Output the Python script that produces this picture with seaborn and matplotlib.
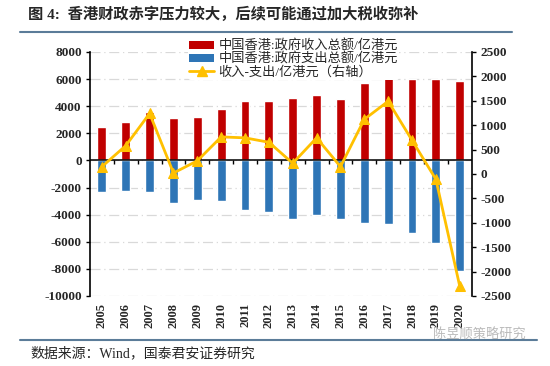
import numpy as np
import pandas as pd
import seaborn as sns
import matplotlib.pyplot as plt
from matplotlib.patches import Patch
from matplotlib.lines import Line2D

# values (亿港元)
years = [str(y) for y in range(2005, 2021)]
revenue = [2470, 2860, 3590, 3160, 3180, 3770, 4390, 4420, 4570, 4790, 4500, 5730, 6220, 6030, 6000, 5880]
expenditure = [-2320, -2270, -2330, -3140, -2890, -2990, -3650, -3800, -4350, -4050, -4350, -4620, -4720, -5330, -6100, -8150]
balance = [150, 580, 1240, 20, 270, 760, 740, 650, 220, 740, 150, 1120, 1490, 690, -110, -2300]

left_ticks = list(range(-10000, 8001, 2000))
right_ticks = list(range(-2500, 2501, 500))

RED = '#C00000'
BLUE = '#2E75B6'
GOLD = '#FFC000'
RULE = '#5B7C99'

sns.set_theme(style='white')
plt.rcParams['font.family'] = ['Liberation Serif', 'Noto Sans CJK SC', 'DejaVu Sans']
plt.rcParams['axes.unicode_minus'] = False

df = pd.DataFrame({'year': years, 'revenue': revenue,
                   'expenditure': expenditure, 'balance': balance})

fig = plt.figure(figsize=(5.5, 3.66), dpi=100)
ax = fig.add_axes([0.1636, 0.1913, 0.694, 0.6667])

sns.barplot(data=df, x='year', y='revenue', color=RED, saturation=1,
            width=0.37, errorbar=None, ax=ax)
sns.barplot(data=df, x='year', y='expenditure', color=BLUE, saturation=1,
            width=0.37, errorbar=None, ax=ax)

ax.set_xlim(-0.5, len(years) - 0.5)
ax.set_ylim(left_ticks[0], left_ticks[-1])
ax.set_yticks(left_ticks)
ax.set_xlabel('')
ax.set_ylabel('')
ax.set_axisbelow(True)
ax.grid(axis='y', color='#D9D9D9', linestyle=(0, (8, 3, 1, 3)), lw=0.9)
ax.axhline(0, color='black', lw=1.1, zorder=3)
# small ticks between categories on the zero line
ax.vlines(np.arange(0.5, len(years) - 1, 1), -250, 0, color='black', lw=1, zorder=3)

for s in ['top', 'right', 'bottom']:
    ax.spines[s].set_visible(False)
ax.spines['left'].set_color('black')
ax.spines['left'].set_linewidth(1.2)
ax.tick_params(axis='x', length=0, pad=5, labelsize=9, rotation=90)
ax.tick_params(axis='y', left=True, length=3, width=1, color='black', labelsize=9.5, pad=3)
for lab in ax.get_xticklabels() + ax.get_yticklabels():
    lab.set_fontweight('bold')

ax2 = ax.twinx()
sns.lineplot(x=np.arange(len(years)), y=balance, ax=ax2, color=GOLD, lw=2,
             marker='^', markersize=7, markeredgecolor=GOLD)
ax2.set_ylim(right_ticks[0], right_ticks[-1])
ax2.set_yticks(right_ticks)
for s in ['top', 'left', 'bottom']:
    ax2.spines[s].set_visible(False)
ax2.spines['right'].set_color('black')
ax2.spines['right'].set_linewidth(1.2)
ax2.tick_params(axis='y', right=True, length=3, width=1, color='black', labelsize=9.5, pad=3)
for lab in ax2.get_yticklabels():
    lab.set_fontweight('bold')
ax2.grid(False)

handles = [Patch(facecolor=RED, edgecolor='none'),
           Patch(facecolor=BLUE, edgecolor='none'),
           Line2D([], [], color=GOLD, lw=2, marker='^', markersize=7)]
labels = ['中国香港:政府收入总额/亿港元', '中国香港:政府支出总额/亿港元', '收入-支出/亿港元（右轴）']
leg = fig.legend(handles, labels, loc='upper left', bbox_to_anchor=(188 / 550, 1 - 38 / 366),
                 frameon=True, facecolor='white', edgecolor='none', framealpha=1,
                 fontsize=9.5, handlelength=1.9, handleheight=0.5, handletextpad=0.3,
                 labelspacing=0.0, borderpad=0.1, borderaxespad=0)

fig.text(28 / 550, 1 - 14 / 366, '图 4:  香港财政赤字压力较大，后续可能通过加大税收弥补',
         fontsize=11, fontweight='bold', va='center')
fig.add_artist(Line2D([20 / 550, 512 / 550], [1 - 31.5 / 366] * 2, color=RULE, lw=1.5))
fig.add_artist(Line2D([20 / 550, 537 / 550], [1 - 340 / 366] * 2, color=RULE, lw=1.5))
fig.text(30 / 550, 1 - 353 / 366, '数据来源：Wind，国泰君安证券研究', fontsize=10, va='center')
fig.text(433 / 550, 1 - 335 / 366, '陈昱顺策略研究', fontsize=9.5, va='center', color='#BBBBBB')

fig.savefig('out.png', dpi=100)
